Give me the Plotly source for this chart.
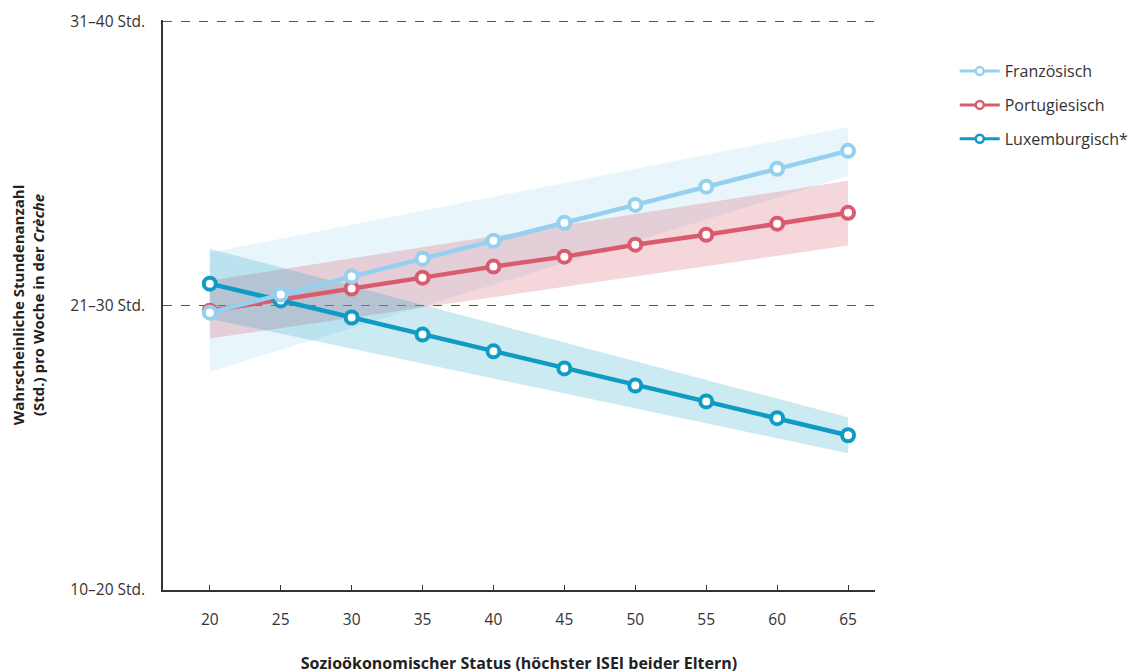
import plotly.graph_objects as go

# Data
x_vals = [20, 25, 30, 35, 40, 45, 50, 55, 60, 65]
series_names = ["Französisch", "Portugiesisch", "Luxemburgisch*"]
# y scale: 0 = "10–20 Std.", 1 = "21–30 Std.", 2 = "31–40 Std."
franz = [0.975, 1.039, 1.102, 1.165, 1.228, 1.291, 1.354, 1.418, 1.481, 1.544]
portu = [0.982, 1.021, 1.060, 1.098, 1.137, 1.172, 1.214, 1.249, 1.288, 1.326]
luxem = [1.077, 1.018, 0.958, 0.898, 0.839, 0.779, 0.719, 0.663, 0.604, 0.544]

band_x = [20, 65]
franz_lo = [0.768, 1.456]
franz_hi = [1.186, 1.628]
portu_lo = [0.884, 1.211]
portu_hi = [1.088, 1.439]
luxem_lo = [0.954, 0.481]
luxem_hi = [1.200, 0.607]

y_tickvals = [0, 1, 2]
y_ticktext = ["10–20 Std.", "21–30 Std.", "31–40 Std."]

colors = {
    "Französisch": "#95d0ef",
    "Portugiesisch": "#d95c6e",
    "Luxemburgisch*": "#0f9bc3",
}
band_fill = {
    "Französisch": "rgba(149,208,239,0.22)",
    "Portugiesisch": "rgba(217,92,110,0.25)",
    "Luxemburgisch*": "rgba(15,155,195,0.21)",
}

fig = go.Figure()

bands = {
    "Französisch": (franz_lo, franz_hi),
    "Portugiesisch": (portu_lo, portu_hi),
    "Luxemburgisch*": (luxem_lo, luxem_hi),
}
for name in series_names:
    lo, hi = bands[name]
    fig.add_trace(go.Scatter(
        x=band_x + band_x[::-1],
        y=lo + hi[::-1],
        fill="toself",
        fillcolor=band_fill[name],
        line=dict(width=0),
        mode="lines",
        hoverinfo="skip",
        showlegend=False,
    ))

lines = {"Französisch": franz, "Portugiesisch": portu, "Luxemburgisch*": luxem}
for name in ["Portugiesisch", "Luxemburgisch*", "Französisch"]:
    fig.add_trace(go.Scatter(
        x=x_vals, y=lines[name], name=name,
        mode="lines+markers",
        line=dict(color=colors[name], width=4.5),
        marker=dict(symbol="circle", size=12, color="white",
                    line=dict(color=colors[name], width=4)),
        showlegend=False,
    ))

# legend entries (smaller symbols, as in the reference)
for i, name in enumerate(series_names):
    fig.add_trace(go.Scatter(
        x=[None], y=[None], name=name,
        mode="lines+markers",
        line=dict(color=colors[name], width=3),
        marker=dict(symbol="circle", size=8, color="white",
                    line=dict(color=colors[name], width=2.5)),
        legendgroup=name, legendrank=i + 1,
    ))

fig.update_layout(
    width=1136, height=672,
    margin=dict(l=155, r=269, t=12, b=90, autoexpand=False),
    paper_bgcolor="white", plot_bgcolor="white",
    font=dict(family="Open Sans, sans-serif", size=15, color="#333333"),
    legend=dict(x=1.112, y=0.94, xanchor="left", yanchor="top",
                font=dict(size=16, color="#333333"),
                itemwidth=40, tracegroupgap=10, bgcolor="rgba(0,0,0,0)"),
    showlegend=True,
)
fig.update_xaxes(
    range=[16.7, 66.9],
    tickvals=x_vals, ticktext=[str(v) for v in x_vals],
    ticks="inside", ticklen=5, tickcolor="#333333", tickwidth=1,
    showline=True, linecolor="#333333", linewidth=1.5,
    showgrid=False, zeroline=False, automargin=False,
    ticklabelstandoff=15,
    tickfont=dict(size=15.5, color="#333333"),
    title=dict(text="<b>Sozioökonomischer Status (höchster ISEI beider Eltern)</b>",
               font=dict(size=16, color="#222222"), standoff=28),
)
fig.update_yaxes(
    range=[0, 2.004],
    tickvals=y_tickvals, ticktext=y_ticktext,
    ticks="", showline=True, linecolor="#333333", linewidth=1.5,
    showgrid=True, gridcolor="#555555", griddash="dash", gridwidth=1,
    zeroline=False, automargin=False,
    ticklabelstandoff=13,
    tickfont=dict(size=15.5, color="#333333"),
    title=dict(text="<b>Wahrscheinliche Stundenanzahl<br>(Std.) pro Woche in der <i>Crèche</i></b>",
               font=dict(size=15, color="#222222"), standoff=31),
)

fig.write_html("out.html")
